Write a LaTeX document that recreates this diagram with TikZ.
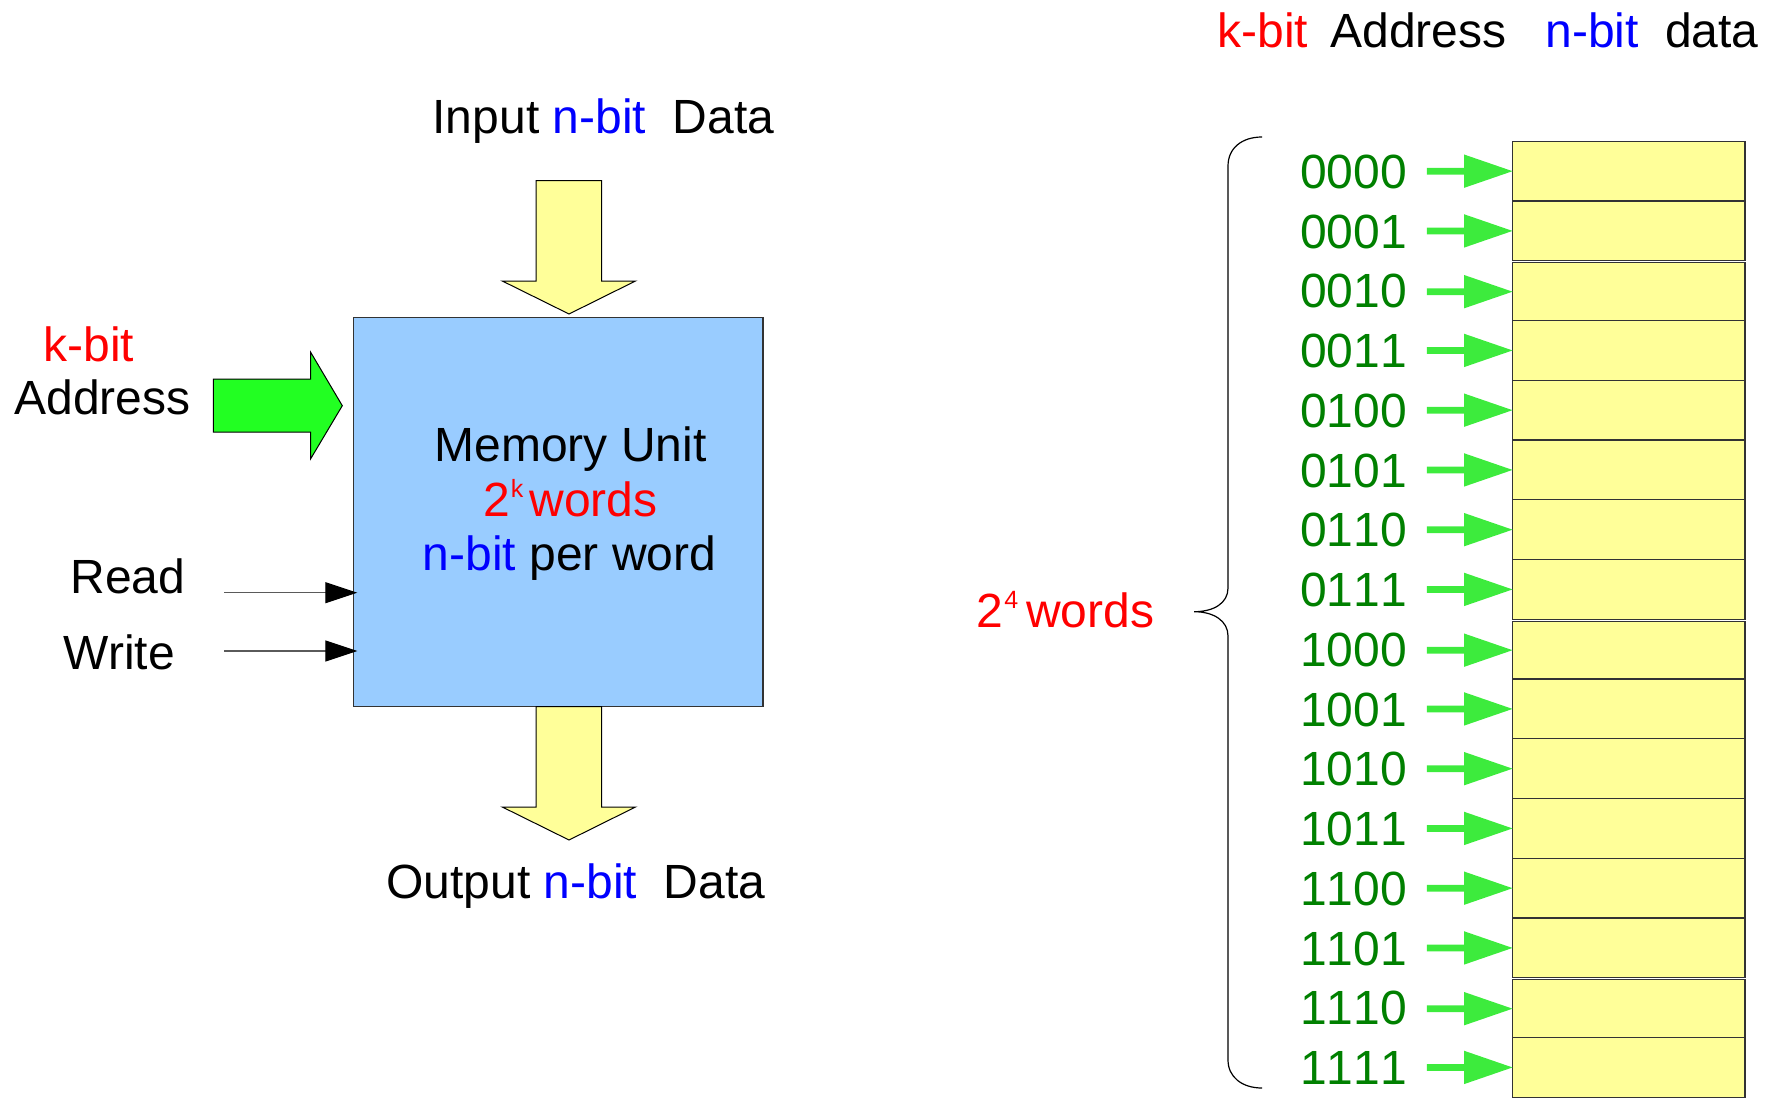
\documentclass[tikz,border=0pt]{standalone}
\usepackage{fontspec}
\setmainfont{Liberation Sans}
\usetikzlibrary{arrows.meta}
\definecolor{memblue}{RGB}{153,204,255}
\definecolor{ylw}{RGB}{255,255,153}
\definecolor{kred}{RGB}{255,0,0}
\definecolor{nblue}{RGB}{0,0,255}
\definecolor{lgreen}{RGB}{0,128,0}
\definecolor{agreen}{RGB}{34,255,34}
\definecolor{rgreen}{RGB}{61,235,61}
\definecolor{lgray}{RGB}{90,90,90}
\newcommand\supx[1]{\raisebox{9.5pt}{\fontsize{12.5}{13}\selectfont #1}}
\begin{document}
\begin{tikzpicture}[x=0.5pt,y=-0.5pt,
  txt/.style={inner sep=0,outer sep=0,font=\fontsize{24}{28}\selectfont},
  labtxt/.style={txt,text=lgreen,font=\fontsize{24}{28}\selectfont\addfontfeatures{Kerning=Off}},
  blockarrow/.style={fill=ylw,draw=black,line width=0.5pt,line join=miter},
  cell/.style={draw=black!80,fill=ylw,line width=0.6pt,inner sep=0,outer sep=0,minimum width=116.25pt},
  ctrl/.style={draw=lgray,line width=0.6pt,-{Triangle[length=16pt,width=10.5pt,fill=black,color=black]}}]
\useasboundingbox (0,0) rectangle (1770,1097);

% ---------- left: memory unit ----------
\node[draw=black!80,fill=memblue,line width=0.6pt,inner sep=0,outer sep=0,
      minimum width=204.85pt,minimum height=194.7pt] (mem) at (558.15,511.9) {};
\node[txt,anchor=base] (mt1) at (570.6,461.7) {Memory Unit};
\node[txt,anchor=base,text=kred] (mt2) at (570.4,516) {2\hspace{0.5pt}\supx{k}\hspace{3pt}words};
\node[txt,anchor=base] (mt3) at (569.5,570) {\textcolor{nblue}{n-bit} per word};

% input arrow
\draw[blockarrow] (536,180.6) -- (601.7,180.6) -- (601.7,281) -- (635.5,281) -- (569,314)
  -- (502.3,281) -- (536,281) -- cycle;
\node[txt,anchor=base] (intxt) at (603.4,133.3) {Input \textcolor{nblue}{n-bit}\ \ Data};

% output arrow
\draw[blockarrow] (536,706.6) -- (601.7,706.6) -- (601.7,807) -- (635.5,807) -- (569,840)
  -- (502.3,807) -- (536,807) -- cycle;
\node[txt,anchor=base] (outtxt) at (575.7,898.3) {Output \textcolor{nblue}{n-bit}\ \ Data};

% address arrow
\draw[fill=agreen,draw=black,line width=0.5pt,line join=miter]
  (213.3,379) -- (310.7,379) -- (310.7,352.3) -- (342.3,405.7) -- (310.7,458.7)
  -- (310.7,432) -- (213.3,432) -- cycle;
\node[txt,anchor=base,text=kred] (kbit) at (89,361.7) {k-bit};
\node[txt,anchor=base] (addr) at (102.5,414.3) {Address};

% read / write
\node[txt,anchor=base west] (read) at (70.4,593.3) {Read};
\node[txt,anchor=base west] (write) at (63.8,669.3) {Write};
\coordinate (rs) at (224,592.7);
\coordinate (ws) at (224,651);
\draw[ctrl] (rs) -- ([xshift=2pt]mem.west |- rs);
\draw[ctrl] (ws) -- ([xshift=2pt]mem.west |- ws);

% ---------- right: memory table ----------
\node[txt,anchor=base west,text=kred] (hk) at (1217.6,47.7) {k-bit};
\node[txt,anchor=base west] (ha) at (1330.4,47.7) {Address};
\node[txt,anchor=base west,text=nblue] (hn) at (1545.4,47.7) {n-bit};
\node[txt,anchor=base west] (hd) at (1665,47.7) {data};

\foreach \i/\b in {0/0000,1/0001,2/0010,3/0011,4/0100,5/0101,6/0110,7/0111,
                   8/1000,9/1001,10/1010,11/1011,12/1100,13/1101,14/1110,15/1111} {
  \pgfmathsetmacro\rtop{141.3+59.75*\i+((\i==2||\i==8||\i==14)?2:0)}
  \pgfmathsetmacro\rbot{141.3+59.75*(\i+1)}
  \pgfmathsetmacro\rh{(\rbot-\rtop)*0.5}
  \pgfmathsetmacro\rc{(\rbot+\rtop)/2}
  \pgfmathsetmacro\lc{141.3+59.75*(\i+0.5)+17.1}
  \node[cell,minimum height=\rh pt] (row\i) at (1628.75,\rc) {};
  \node[labtxt,anchor=base west] (lab\i) at (1300,\lc) {\b};
  \fill[rgreen,shift={(row\i.west)}] (0,0) -- (-48.5,16.7) -- (-48.5,3.35) -- (-85.7,3.35)
     -- (-85.7,-3.35) -- (-48.5,-3.35) -- (-48.5,-16.7) -- cycle;
}

% brace
\draw[black,line width=0.6pt] (1262,137) .. controls (1242,137) and (1228,148) .. (1228,166)
  -- (1228,588) .. controls (1228,603) and (1214,611.7) .. (1194,611.7)
  .. controls (1214,611.7) and (1228,621) .. (1228,636)
  -- (1228,1060) .. controls (1228,1077) and (1242,1088) .. (1262,1088);
\node[txt,anchor=base west,text=kred] (w16) at (976.7,627.3) {2\hspace{0.5pt}\supx{4}\hspace{4pt}words};
\end{tikzpicture}
\end{document}
